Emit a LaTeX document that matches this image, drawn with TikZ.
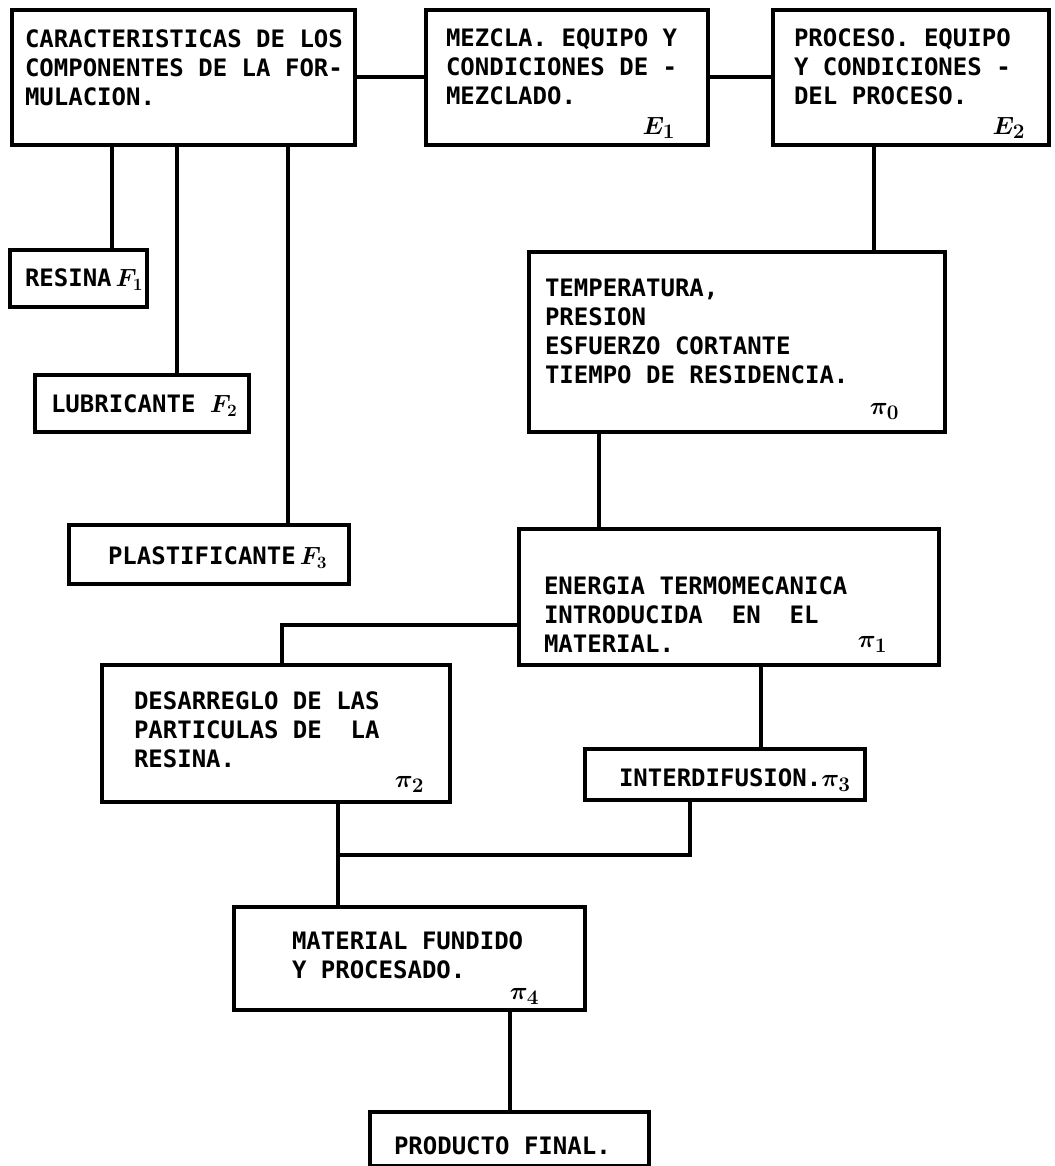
\documentclass[tikz,border=0pt]{standalone}
\usepackage{fontspec}
\setmainfont{DejaVu Sans Mono}
\usetikzlibrary{positioning}

% subscript labels of the boxes
\newcommand{\pisub}[1]{{\fontsize{24.88}{29}\selectfont\boldmath$\pi_{#1}$}}

\begin{document}
\begin{tikzpicture}[x=1pt, y=1pt, line width=4pt,
    font=\fontsize{24}{29}\selectfont\bfseries,
    caja/.style={draw, rectangle, inner sep=0pt, anchor=north west},
    texto/.style={inner sep=0pt, align=left},
    sub/.style={inner sep=0pt, font=\fontsize{24.88}{29}\selectfont\boldmath}]
  \useasboundingbox (0,0) rectangle (1054,-1166);

  % Top row: formulation, mixing, process
  \node[caja, minimum width=343pt, minimum height=135pt] (carac) at (10,-8) {};
  \node[caja, minimum width=282pt, minimum height=135pt] (mezcla) at (424,-8) {};
  \node[caja, minimum width=276pt, minimum height=135pt] (proceso) at (771,-8) {};

  \node[texto, below right=20pt and 13pt of carac.north west] (caracTxt)
    {CARACTERISTICAS DE LOS\\COMPONENTES DE LA FOR-\\MULACION.};
  \node[texto, below right=19pt and 20pt of mezcla.north west] (mezclaTxt)
    {MEZCLA. EQUIPO Y\\CONDICIONES DE -\\MEZCLADO.};
  \node[texto, below right=19pt and 21pt of proceso.north west] (procesoTxt)
    {PROCESO. EQUIPO\\Y CONDICIONES -\\DEL PROCESO.};
  \node[sub, above left=6pt and 33pt of mezcla.south east] (e1) {$E_1$};
  \node[sub, above left=6pt and 24pt of proceso.south east] (e2) {$E_2$};

  % Components of the formulation
  \node[caja, minimum width=137pt, minimum height=57pt] (resina) at (8,-248) {};
  \node[caja, minimum width=214pt, minimum height=57pt] (lubri) at (33,-373) {};
  \node[caja, minimum width=280pt, minimum height=59pt] (plast) at (67,-523) {};

  \node[texto, below right=19pt and 15pt of resina.north west] (resinaTxt) {RESINA\,{\boldmath$F_1$}};
  \node[texto, below right=20pt and 16pt of lubri.north west] (lubriTxt) {LUBRICANTE {\boldmath$F_2$}};
  \node[texto, below right=22pt and 39pt of plast.north west] (plastTxt) {PLASTIFICANTE\,{\boldmath$F_3$}};

  % Process variables
  \node[caja, minimum width=416pt, minimum height=180pt] (temp) at (527,-250) {};
  \node[texto, below right=27pt and 16pt of temp.north west] (tempTxt)
    {TEMPERATURA,\\PRESION\\ESFUERZO CORTANTE\\TIEMPO DE RESIDENCIA.};
  \node[sub, above left=13pt and 46pt of temp.south east] (pi0) {\pisub{0}};

  \node[caja, minimum width=420pt, minimum height=136pt] (energia) at (517,-527) {};
  \node[texto, below right=48pt and 25pt of energia.north west] (energiaTxt)
    {ENERGIA TERMOMECANICA\\INTRODUCIDA~ EN~ EL\\MATERIAL.};
  \node[sub, above left=13pt and 52pt of energia.south east] (pi1) {\pisub{1}};

  % Effects on the material
  \node[caja, minimum width=348pt, minimum height=137pt] (desarreglo) at (100,-663) {};
  \node[texto, below right=27pt and 32pt of desarreglo.north west] (desarregloTxt)
    {DESARREGLO DE LAS\\PARTICULAS DE~ LA\\RESINA.};
  \node[sub, above left=10pt and 26pt of desarreglo.south east] (pi2) {\pisub{2}};

  \node[caja, minimum width=280pt, minimum height=51pt] (interdif) at (583,-747) {};
  \node[texto, below right=20pt and 34pt of interdif.north west] (interdifTxt)
    {INTERDIFUSION.\pisub{3}};

  % Result
  \node[caja, minimum width=351pt, minimum height=103pt] (material) at (232,-905) {};
  \node[texto, below right=25pt and 58pt of material.north west] (materialTxt)
    {MATERIAL FUNDIDO\\Y PROCESADO.};
  \node[sub, above left=6pt and 46pt of material.south east] (pi4) {\pisub{4}};

  \node[caja, minimum width=279pt, minimum height=54pt] (producto) at (368,-1110) {};
  \node[texto, below right=25pt and 24pt of producto.north west] (productoTxt)
    {PRODUCTO FINAL.};

  % Connectors
  \draw (carac.east) -- (mezcla.west);
  \draw (mezcla.east) -- (proceso.west);
  \draw ([xshift=33]resina.north) -- ([xshift=33]resina.north |- carac.south);
  \draw ([xshift=35]lubri.north) -- ([xshift=35]lubri.north |- carac.south);
  \draw ([xshift=79]plast.north) -- ([xshift=79]plast.north |- carac.south);
  \draw ([xshift=137]temp.north) -- ([xshift=137]temp.north |- proceso.south);
  \draw ([xshift=-130]energia.north) -- ([xshift=-130]energia.north |- temp.south);
  \draw ([yshift=-28]energia.west) -| ([xshift=6]desarreglo.north);
  \draw ([xshift=32]energia.south) -- ([xshift=32]energia.south |- interdif.north);
  \coordinate (union) at (336,-855);
  \draw ([xshift=62]desarreglo.south) -- ([xshift=62]desarreglo.south |- material.north);
  \draw ([xshift=-35]interdif.south) |- (union);
  \draw (producto.north) -- (producto.north |- material.south);
\end{tikzpicture}
\end{document}
